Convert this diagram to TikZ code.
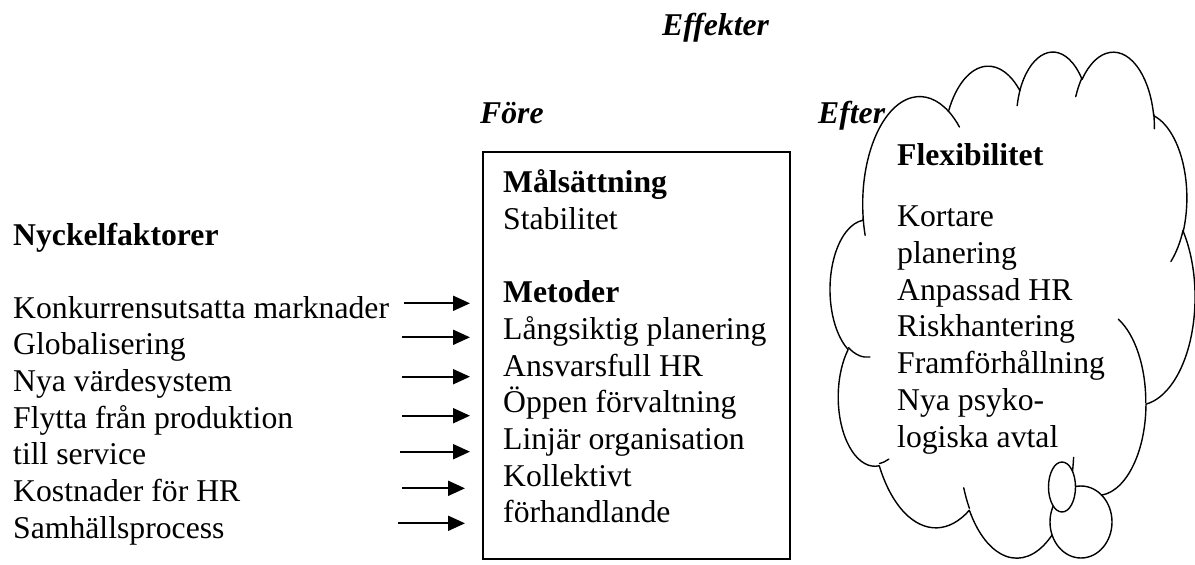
\documentclass[tikz,border=0pt]{standalone}
\usepackage{fontspec}
\setmainfont{Liberation Serif}
\usetikzlibrary{arrows.meta}
% elliptical arc given by radii and "visual" start angle / sweep (degrees)
\newcommand\cldarc[4]{arc[start angle={atan2((#1)*sin(#3),(#2)*cos(#3))},
  delta angle={mod(atan2((#1)*sin((#3)+(#4)),(#2)*cos((#3)+(#4)))-atan2((#1)*sin(#3),(#2)*cos(#3))+720,360)},
  x radius=#1, y radius=#2]}
\begin{document}
\begin{tikzpicture}[x=1pt,y=-1pt,
  txt/.style={anchor=base west, inner sep=0pt, font=\fontsize{31.7}{36.7}\selectfont},
  hd/.style={txt, font=\fontsize{31.7}{36.7}\selectfont\bfseries},
  hdi/.style={txt, font=\fontsize{31.7}{36.7}\selectfont\bfseries\itshape},
  arr/.style={line width=2pt, -{Triangle[length=17pt,width=15pt]}},
  framebox/.style={draw, line width=2pt, inner sep=0pt, anchor=north west},
  cloudline/.style={line width=1.4pt, line join=round, line cap=round}]
\useasboundingbox (0,0) rectangle (1195,565);

% ---- thought cloud ----
\begin{scope}[shift={(830.3,50.4)}, x=0.844pt, y=-1.1711pt]
  \draw[cloudline, fill=white] (39.00,143.70)
    \cldarc{67.53}{91.90}{-190.4875}{123.7805}
    \cldarc{53.33}{72.67}{-144.1024}{89.9452}
    \cldarc{43.65}{59.45}{-145.8079}{99.7230}
    \cldarc{48.57}{65.95}{-130.9861}{117.2417}
    \cldarc{53.33}{72.73}{-78.7089}{109.0269}
    \cldarc{67.75}{92.20}{-46.2673}{130.2690}
    \cldarc{57.85}{78.67}{0.6250}{114.0333}
    \cldarc{67.52}{92.15}{22.4516}{115.1726}
    \cldarc{77.20}{105.43}{66.2426}{75.7110}
    \cldarc{43.60}{59.18}{-274.9421}{146.7356}
    \cldarc{43.45}{59.45}{-246.8285}{152.5189}
    -- cycle;
  \draw[cloudline]
    (46.93,261.77) \cldarc{43.45}{59.45}{86.7420}{26.4295}
    (69.28,348.99) \cldarc{43.60}{59.18}{73.6105}{11.4475}
    (164.78,390.90) \cldarc{67.52}{92.15}{137.6242}{14.0811}
    (288.27,347.51) \cldarc{67.52}{92.15}{6.4533}{15.9984}
    (341.29,229.54) \cldarc{57.85}{78.67}{-70.2924}{70.9174}
    (417.98,153.54) \cldarc{53.33}{72.73}{30.3180}{27.7515}
    (383.24,54.26) \cldarc{48.57}{65.95}{-13.7443}{14.8553}
    (290.78,39.52) \cldarc{48.57}{65.95}{-149.1815}{18.1968}
    (221.41,47.20) \cldarc{43.65}{59.45}{-163.4943}{17.6876}
    (140.00,51.92) \cldarc{67.53}{91.90}{-66.7070}{12.3194}
    (41.27,157.89) \cldarc{67.53}{91.90}{157.6544}{11.8582};
\end{scope}
% tail bubbles
\draw[cloudline, fill=white] (1081,522) ellipse [x radius=31, y radius=36];
\draw[cloudline, fill=white] (1062,487) ellipse [x radius=13.5, y radius=25];

% ---- headings ----
\node[hdi] (effekter) at (662,35) {Effekter};
\node[hdi] (fore) at (480,123) {Före};
\node[hdi] (efter) at (818,123) {Efter};
\node[hd] (nyckel) at (13,245) {Nyckelfaktorer};

% ---- key factors ----
\foreach \t [count=\i from 0] in {{Konkurrensutsatta marknader},{Globalisering},
  {Nya värdesystem},{Flytta från produktion},{till service},{Kostnader för HR},
  {Samhällsprocess}}
  \node[txt] (f\i) at (13,318+36.7*\i) {\t};

% ---- frame "Före" ----
\node[framebox, minimum width=307.3pt, minimum height=407pt] (fram) at (481.7,151) {};
\node[hd] (mal) at (503,192.5) {Målsättning};
\node[txt] (stab) at (503,229.2) {Stabilitet};
\node[hd] (met) at (503,302.6) {Metoder};
\foreach \t [count=\i from 0] in {{Långsiktig planering},{Ansvarsfull HR},
  {Öppen förvaltning},{Linjär organisation},{Kollektivt},{förhandlande}}
  \node[txt] (m\i) at (503,339.3+36.7*\i) {\t};

% ---- cloud text "Efter" ----
\node[hd] (flex) at (897,165) {Flexibilitet};
\foreach \t [count=\i from 0] in {{Kortare},{planering},{Anpassad HR},
  {Riskhantering},{Framförhållning},{Nya psyko-},{logiska avtal}}
  \node[txt] (e\i) at (897,226.4+36.8*\i) {\t};

% ---- arrows into the frame ----
\foreach \i/\xs/\xe/\y in {1/404/470/303.3, 2/402/470/337.3, 3/402/470/376.7,
  4/402/470/415.7, 5/400/470/451.7, 6/402/465/488.3, 7/398/465/523.3}{
  \coordinate (as\i) at (\xs,\y);
  \coordinate (ae\i) at (\xe,\y);
  \draw[arr] (as\i) -- (ae\i);
}
\end{tikzpicture}
\end{document}
